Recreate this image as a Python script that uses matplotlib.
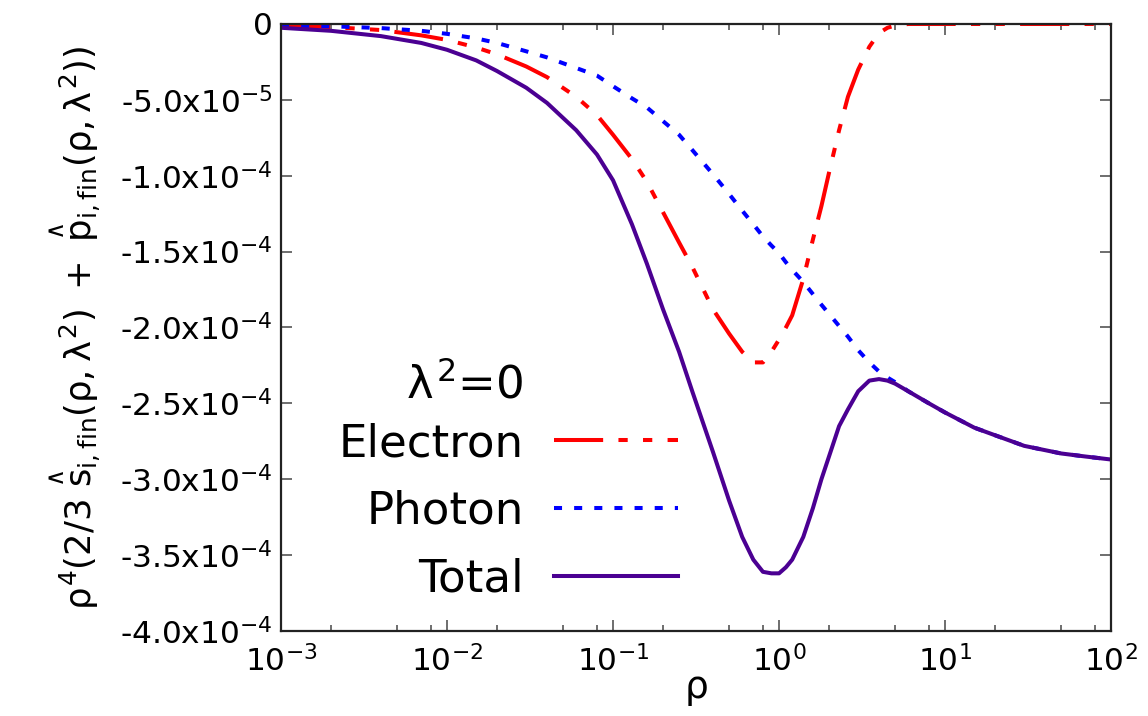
import numpy as np
import matplotlib
matplotlib.use("Agg")
import matplotlib.pyplot as plt
import matplotlib.ticker as mtick

plt.rcParams['font.family'] = ['DejaVu Sans']
plt.rcParams['mathtext.fontset'] = 'custom'
plt.rcParams['mathtext.rm'] = 'DejaVu Sans'
plt.rcParams['mathtext.it'] = 'DejaVu Sans'
plt.rcParams['mathtext.bf'] = 'DejaVu Sans:bold'

# data (values in units of 1e-5)
rho = [0.001, 0.002, 0.004, 0.007, 0.01, 0.015, 0.02, 0.03, 0.04, 0.06, 0.08,
       0.1, 0.13, 0.16, 0.2, 0.25, 0.3, 0.4, 0.5, 0.6, 0.7, 0.8, 0.9, 1.0,
       1.1, 1.2, 1.4, 1.6, 1.8, 2.0, 2.3, 2.6, 3.0, 3.5, 4.0, 4.5, 5.0, 6.0,
       8.0, 10, 15, 20, 30, 50, 70, 100]

electron = [-0.1, -0.2, -0.4, -0.75, -1.05, -1.55, -2.0, -2.8, -3.5, -4.8, -6.0,
            -7.3, -8.9, -10.4, -12.4, -14.4, -16.0, -18.8, -20.4, -21.6, -22.3, -22.3, -21.6, -20.8,
            -20.0, -19.2, -16.8, -14.2, -12.0, -9.8, -7.0, -4.8, -3.0, -1.5, -0.6, -0.25, -0.1, 0.0,
            0.0, 0.0, 0.0, 0.0, 0.0, 0.0, 0.0, 0.0]

photon = [-0.1, -0.15, -0.27, -0.45, -0.65, -0.95, -1.25, -1.8, -2.2, -2.9, -3.4,
          -4.1, -4.9, -5.5, -6.4, -7.3, -8.3, -9.9, -11.2, -12.3, -13.2, -14.0, -14.6, -15.1,
          -15.7, -16.2, -17.0, -17.8, -18.5, -19.1, -19.9, -20.6, -21.5, -22.3, -22.9, -23.3, -23.6, -24.2,
          -25.0, -25.6, -26.6, -27.1, -27.8, -28.3, -28.5, -28.7]

total = [-0.25, -0.45, -0.8, -1.25, -1.7, -2.4, -3.1, -4.2, -5.2, -7.0, -8.6,
         -10.3, -13.2, -15.8, -18.8, -21.6, -24.2, -28.2, -31.4, -33.8, -35.3, -36.1, -36.2, -36.2,
         -35.8, -35.3, -33.8, -31.9, -30.0, -28.5, -26.5, -25.4, -24.2, -23.5, -23.4, -23.5, -23.7, -24.2,
         -25.0, -25.6, -26.6, -27.1, -27.8, -28.3, -28.5, -28.7]

yticks = [0, -5e-5, -1e-4, -1.5e-4, -2e-4, -2.5e-4, -3e-4, -3.5e-4, -4e-4]
ylabels = ['0', r'-5.0x10$^{-5}$', r'-1.0x10$^{-4}$', r'-1.5x10$^{-4}$', r'-2.0x10$^{-4}$',
           r'-2.5x10$^{-4}$', r'-3.0x10$^{-4}$', r'-3.5x10$^{-4}$', r'-4.0x10$^{-4}$']

rho = np.array(rho)
electron = np.array(electron) * 1e-5
photon = np.array(photon) * 1e-5
total = np.array(total) * 1e-5

fig = plt.figure(figsize=(11.48, 7.16), dpi=100)
ax = fig.add_axes([0.2448, 0.1187, 0.7230, 0.8478])

lw = 2.9
ax.plot(rho, electron, color='#ff0000', lw=lw, dashes=(12.2, 3.8, 2.3, 3.8, 2.3, 3.8),
        label='Electron')
ax.plot(rho, photon, color='#0000ff', lw=lw, dashes=(2.0, 3.0), label='Photon')
ax.plot(rho, total, color='#4b0092', lw=lw, label='Total')

ax.set_xscale('log')
ax.set_xlim(1e-3, 1e2)
ax.set_ylim(-4e-4, 0)
ax.set_yticks(yticks)
ax.set_yticklabels(ylabels)
ax.xaxis.set_major_locator(mtick.LogLocator(base=10, numticks=10))
ax.xaxis.set_minor_locator(mtick.LogLocator(base=10, subs=(2, 5, 8), numticks=20))
ax.xaxis.set_minor_formatter(mtick.NullFormatter())

ax.tick_params(which='both', direction='in', top=True, right=True, colors='#555555',
               labelcolor='black', width=1.2)
ax.tick_params(axis='y', labelsize=22.5, pad=6)
ax.tick_params(axis='x', labelsize=22.5, pad=10)
ax.tick_params(which='major', length=8)
ax.tick_params(which='minor', length=4)
for s in ax.spines.values():
    s.set_linewidth(1.6)
    s.set_color('#222222')

ax.set_xlabel(r'$\rho$', fontsize=27, labelpad=-4)
ax.set_ylabel(r'$\rho^4(2/3\ \overset{\wedge}{s}_{i,fin}(\rho,\lambda^2)\ +\ \overset{\wedge}{p}_{i,fin}(\rho,\lambda^2))$',
              fontsize=25.5, labelpad=12)

ax.legend(loc='center right', bbox_to_anchor=(0.478, 0.197), frameon=False,
          markerfirst=False, fontsize=32.5, handlelength=2.75, handletextpad=0.66,
          labelspacing=0.55, borderpad=0, borderaxespad=0)
ax.text(0.2916, 0.405, r'$\lambda^2$=0', transform=ax.transAxes, ha='right', va='center',
        fontsize=32.5)

fig.savefig('out.png', dpi=100)
